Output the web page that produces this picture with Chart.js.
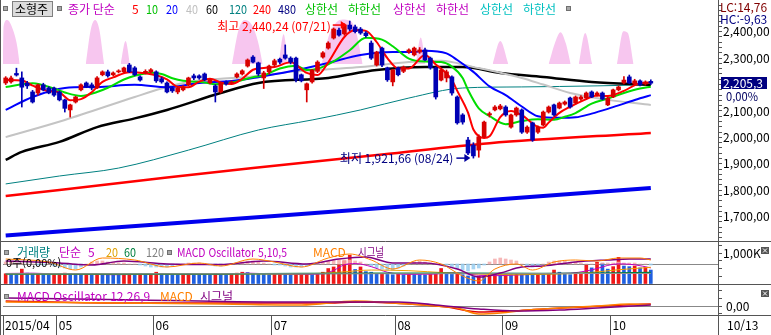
<!DOCTYPE html>
<html lang="ko"><head><meta charset="utf-8">
<script src="https://cdn.jsdelivr.net/npm/chart.js@4.4.1/dist/chart.umd.min.js"></script>
<style>
html,body{margin:0;padding:0;background:#fff;width:771px;height:335px;overflow:hidden;}
canvas{position:absolute;left:0;display:block;}
</style></head><body>
<canvas id="cMain" width="771" height="242" style="top:0px"></canvas>
<canvas id="cVol" width="771" height="43" style="top:242px"></canvas>
<canvas id="cMacd" width="771" height="50" style="top:285px"></canvas>
<script>
// ---------------- DATA ----------------
const opens = [2206,2210,2242,2225,2205,2172,2168,2199,2187,2187, 2172,2142,2104,2134,2180,2206,2199,2187,2237,2248, 2237,2248,2248,2274,2263,2229,2244,2248,2248,2222, 2206,2187,2172,2180,2199,2233,2233,2240,2206,2195, 2172,2210,2206,2229,2240,2270,2304,2282,2225,2248, 2274,2296,2312,2300,2300,2237,2180,2210,2250,2304, 2338,2376,2406,2392,2425,2418,2410,2395,2357,2274, 2338,2263,2210,2263,2250,2323,2312,2323,2331,2300, 2263,2217,2225,2229,2153,2085,1990,1971,1952,2002, 2085,2104,2108,2115,2039,2085,2104,2020,2055,2020, 2047,2096,2123,2111,2126,2149,2130,2145,2149,2172, 2160,2168,2123,2153,2180,2206,2229,2202,2214,2202, 2212];
const highs = [2230,2232,2262,2248,2212,2178,2202,2205,2192,2190, 2176,2145,2126,2156,2203,2210,2206,2230,2252,2255, 2248,2256,2266,2280,2268,2233,2256,2260,2252,2228, 2210,2192,2192,2196,2228,2240,2237,2244,2222,2200, 2208,2214,2214,2244,2256,2297,2310,2285,2250,2274, 2296,2300,2350,2305,2304,2240,2206,2258,2290,2325, 2362,2414,2414,2430,2440.24,2425,2416,2400,2365,2326, 2342,2266,2258,2266,2270,2335,2342,2340,2338,2304, 2266,2260,2255,2233,2157,2090,2000,1980,2010,2062, 2096,2120,2125,2120,2088,2115,2108,2044,2058,2044, 2100,2119,2126,2134,2138,2153,2157,2158,2172,2176, 2172,2172,2153,2183,2195,2230,2236,2220,2218,2214, 2218];
const lows = [2200,2205,2232,2115,2185,2130,2160,2176,2165,2155, 2138,2096,2077,2130,2176,2188,2180,2184,2233,2228, 2233,2244,2245,2245,2233,2213,2240,2244,2208,2205, 2168,2170,2165,2176,2195,2218,2220,2214,2202,2134, 2168,2198,2202,2225,2236,2266,2282,2233,2185,2240, 2268,2278,2296,2278,2210,2210,2134,2205,2245,2300, 2334,2372,2383,2387,2404,2395,2390,2378,2295,2270, 2268,2212,2195,2233,2245,2318,2308,2318,2290,2258, 2145,2214,2210,2160,2050,2050,1935,1921.66,1925,1998, 2077,2100,2104,2080,2035,2080,2015,2015,1985,2015, 2043,2092,2080,2108,2122,2111,2126,2140,2145,2150, 2156,2142,2120,2150,2176,2202,2203,2198,2195,2198, 2200];
const closes = [2225,2225,2236,2190,2195,2134,2199,2180,2168,2160, 2142,2110,2123,2153,2199,2191,2187,2225,2248,2233, 2244,2249,2263,2248,2237,2217,2250,2256,2214,2210, 2172,2176,2187,2191,2225,2225,2225,2218,2218,2172, 2206,2202,2210,2240,2252,2293,2285,2240,2244,2270, 2290,2285,2300,2285,2217,2214,2203,2255,2285,2320, 2357,2410,2387,2425,2410,2400,2395,2385,2300,2323, 2274,2218,2255,2237,2266,2331,2338,2331,2293,2263, 2153,2255,2248,2168,2055,2058,1941,1930,2002,2058, 2090,2115,2119,2085,2085,2111,2020,2039,1990,2039, 2096,2115,2085,2130,2134,2115,2153,2153,2168,2153, 2168,2145,2149,2180,2191,2217,2206,2214,2199,2210, 2205.3];
// volume in thousands
const volume = [330,310,300,480,350,330,340,300,290,310, 330,350,340,320,300,310,290,320,310,300, 290,280,300,320,310,330,300,310,380,330, 320,300,290,310,330,320,300,290,280,330, 310,300,320,350,380,370,340,330,310,300, 310,320,300,290,310,320,340,300,310,380, 500,550,620,750,930,470,550,400,380,320, 330,310,300,320,300,320,310,300,290,310, 330,500,320,310,330,300,260,240,250,230, 280,300,290,310,300,320,310,300,290,310, 300,320,450,380,310,300,320,330,610,520, 700,670,480,560,860,580,560,580,520,540, 450];
// MACD oscillator 5,10,5 (shown in volume pane)
const osc5 = [0.2,0.2,0.1,0.1,0.0,0.0,-0.1,-0.1, 0.0,-0.2,-0.3,-0.4,-0.5,-0.5,-0.3,0.0, 0.2,0.3,0.3,0.2,0.2,0.1,0.1,0.0, 0.0,-0.1,-0.2,-0.3,-0.3,-0.3,-0.3,-0.2, -0.1,0.0,0.1,0.1,0.1,0.0,-0.1,-0.2, -0.2,-0.1,0.0,0.1,0.2,0.3,0.3,0.2, 0.1,0.0,-0.1,-0.1,-0.2,-0.3,-0.3,-0.3, -0.2,0.0,0.1,0.2,0.3,0.4,0.4,0.4, 0.4,0.3,0.2,0.0,-0.2,-0.4,-0.5,-0.6, -0.6,-0.4,-0.2,0.0,0.2,0.3,0.2,0.1, 0.0,0.0,-0.1,-0.3,-0.5,-0.6,-0.7,-0.5, -0.4,-0.1,0.2,0.5,0.6,0.5,0.4,0.3, 0.0,-0.2,-0.3,-0.2,0.0,0.2,0.3,0.3, 0.3,0.2,0.2,0.1,0.0,0.0,0.0,0.1, 0.1,0.1,0.2,0.1,0.1,0.1,0.0,0.0,-0.1];

// moving averages [candle index, value]
const ma5 = [[0,2217],[3,2215],[5,2196],[8,2175],[10,2170],[12,2141],[14,2145],[16,2171],[18,2210],[20,2227],[23,2247],[26,2243],[28,2235],[30,2220],[32,2192],[34,2190],[36,2211],[38,2222],[40,2208],[42,2202],[44,2222],[46,2256],[48,2263],[50,2266],[53,2284],[56,2244],[58,2236],[60,2284],[63,2380],[65,2406],[67,2403],[69,2361],[71,2300],[73,2261],[75,2261],[78,2312],[80,2276],[82,2242],[83,2217],[84,2176],[86,2094],[87,2030],[89,1998],[90,2004],[92,2077],[94,2100],[96,2084],[99,2040],[100,2037],[101,2056],[103,2093],[105,2116],[108,2145],[110,2159],[112,2157],[115,2176],[118,2205],[120,2207]];
const ma10 = [[0,2191],[5,2205],[9,2185],[11,2170],[14,2157],[17,2172],[19,2188],[22,2219],[24,2233],[27,2245],[29,2240],[31,2224],[33,2214],[35,2211],[37,2208],[39,2201],[42,2208],[44,2217],[46,2228],[48,2234],[51,2261],[54,2271],[56,2255],[58,2260],[61,2288],[64,2330],[67,2377],[70,2370],[72,2345],[75,2298],[78,2287],[81,2285],[83,2268],[85,2225],[86,2180],[88,2110],[90,2081],[93,2050],[96,2062],[99,2069],[102,2067],[104,2078],[106,2092],[109,2128],[112,2147],[115,2168],[118,2185],[120,2192]];
const ma20 = [[0,2104],[5,2153],[11,2187],[17,2191],[24,2199],[30,2190],[36,2206],[42,2213],[47,2228],[53,2250],[60,2282],[66,2312],[72,2323],[76,2323],[78,2328],[82,2318],[84,2293],[87,2248],[90,2193],[93,2160],[96,2117],[99,2080],[103,2074],[106,2076],[109,2090],[112,2108],[115,2128],[118,2148],[120,2160]];
const ma40 = [[0,2001],[11,2066],[24,2153],[29,2185],[34,2210],[40,2222],[47,2232],[53,2248],[60,2258],[66,2266],[75,2285],[81,2290],[87,2266],[92,2245],[96,2225],[100,2200],[105,2168],[112,2142],[120,2123]];
const ma60 = [[0,1915],[3,1945],[10,1983],[17,2039],[24,2072],[30,2104],[40,2168],[47,2206],[60,2225],[69,2255],[78,2266],[85,2266],[92,2244],[100,2229],[109,2210],[120,2199]];
const ma120 = [[0,1824],[10,1854],[21,1884],[34,1952],[47,2028],[57,2066],[66,2104],[75,2149],[85,2187],[96,2191],[110,2195],[120,2199]];
const ma240 = [[0,1778],[30,1848],[46,1884],[70,1935],[90,1978],[120,2017]];
const ma480 = [[0,1629],[30,1673],[60,1718],[90,1763],[120,1809]];
// pink envelope humps at top [index, value]
const pinkBase = 2278;
const pinkBlobs = [
 [[-0.5,2278],[-0.4,2420],[0.3,2444],[1.3,2410],[2.1,2350],[2.6,2278]],
 [[14.9,2278],[15.8,2405],[16.6,2444],[17.4,2410],[18.3,2278]],
 [[21.4,2278],[22.3,2365],[23.1,2278]],
 [[42.1,2278],[43.3,2405],[44.5,2444],[45.8,2425],[46.9,2365],[47.8,2278]],
 [[50.8,2278],[51.7,2390],[52.5,2278]],
 [[58.8,2278],[60.2,2390],[61.5,2435],[62.7,2446],[64.0,2442],[65.1,2405],[66.4,2278]],
 [[76.3,2278],[77.2,2378],[78.1,2278]],
 [[90.6,2278],[92.0,2365],[93.5,2278]],
 [[101.0,2278],[102.3,2365],[103.2,2398],[104.2,2355],[105.1,2278]],
 [[106.6,2278],[107.8,2395],[109.1,2278]],
 [[113.7,2278],[114.9,2402],[115.7,2396],[116.8,2278]]
];
// volume moving averages (K)
const volMa5 = [[0,340],[5,350],[10,320],[15,315],[20,300],[25,310],[30,320],[35,310],[40,310],[45,350],[50,320],[55,310],[59,330],[61,440],[63,620],[65,660],[68,560],[71,380],[75,310],[80,320],[82,360],[85,350],[88,280],[92,270],[97,305],[102,340],[105,350],[108,420],[110,500],[112,600],[114,650],[117,620],[120,520]];
const volMa20 = [[0,320],[20,315],[40,320],[55,325],[62,380],[68,450],[75,430],[82,360],[88,320],[95,300],[102,320],[108,360],[114,460],[120,540]];
const volMa60 = [[0,320],[40,320],[70,350],[100,340],[120,370]];
const volMa120 = [[0,330],[60,330],[120,340]];
// MACD 5,10,5 lines (volume pane)
const macd5 = [[0,0.5],[8,0.2],[13,-0.6],[18,0.6],[24,0.4],[30,-0.3],[36,0.1],[40,-0.2],[46,0.5],[50,0.2],[55,-0.3],[60,0.6],[64,1.0],[68,0.4],[72,-0.5],[77,0.4],[81,0.0],[85,-1.2],[88,-1.7],[91,-0.5],[95,0.0],[98,-0.6],[102,0.2],[106,0.4],[110,0.3],[114,0.6],[118,0.6],[120,0.4]];
const signal5 = [[0,0.3],[10,0.1],[16,-0.1],[22,0.3],[30,0.0],[40,-0.05],[48,0.3],[56,0.0],[62,0.5],[67,0.7],[72,0.1],[78,0.1],[84,-0.5],[88,-1.3],[92,-0.9],[96,-0.3],[100,-0.2],[106,0.2],[112,0.4],[116,0.5],[120,0.5]];
// MACD 12,26,9 pane
const macd12 = [[0,4],[20,3],[40,2],[55,1],[65,5],[72,3],[80,0],[84,-2],[88,-8],[92,-7],[97,-4],[103,-2],[110,0],[116,2],[120,1.5]];
const signal12 = [[0,8],[25,6],[50,4],[65,4],[73,4],[80,1],[88,-3],[95,-5],[103,-4],[110,-2],[120,1]];
const osc12 = [[0,5],[20,3],[40,3],[60,3],[66,4],[75,2],[82,-1],[88,-6],[94,-5],[100,-3],[108,-1],[115,1],[120,2]];
// axis labels
const monthStartIdx = [0,10,28,50,73,93,113];
const monthLabels = ['2015/04','05','06','07','08','09','10'];
const lastDateLabel = '10/13';
const priceLabelValues = [1700,1800,1900,2000,2100,2300,2400];
const volTickValues = [0,250,500,750,1000,1250];
const macdTickValues = [-7.5,0,7.5,15];
const hiDate = '07/21', loDate = '08/24';

// ---------------- STYLE ----------------
const FONT = '"Noto Sans CJK KR", "Noto Sans", sans-serif';
const FRAME = '#555555';
const UP = '#d80000', DOWN = '#0000b4';
const VUP = '#f01818', VDOWN = '#1f5fe0';
Chart.defaults.font.family = FONT;
Chart.defaults.font.size = 12;
Chart.defaults.color = '#000';

const candleColor = opens.map((o,i)=> closes[i] >= o ? UP : DOWN);
const volColor = volume.map((v,i)=> (i===0 || v >= volume[i-1]) ? VUP : VDOWN);

function lineDS(pts, color, w, axis, order){
  return {type:'line', data: pts.map(p=>({x:p[0], y:p[1]})), borderColor:color, borderWidth:w,
    pointRadius:0, fill:false, cubicInterpolationMode:'monotone', yAxisID: axis||'y', order: order||10};
}
function xAxisHidden(){ return {type:'linear', min:-0.5, max:132.5, offset:false, display:false, grid:{display:false}}; }
function baseOpts(){
  return {responsive:false, animation:false, devicePixelRatio:1, events:[],
    layout:{padding:{left:3,right:0,top:0,bottom:0}},
    plugins:{legend:{display:false}, tooltip:{enabled:false}}};
}
function fitRight(s){ s.width = 53; s.paddingTop = 0; s.paddingBottom = 0; }
function txt(ctx, s, x, y, color, o){
  o = o||{};
  ctx.save();
  ctx.font = (o.size||12) + 'px ' + FONT;
  ctx.fillStyle = color; ctx.textBaseline = 'middle'; ctx.textAlign = o.align||'left';
  if (o.w) ctx.fillText(s, x, y, o.w); else ctx.fillText(s, x, y);
  ctx.restore();
}
function hline(ctx, x1, x2, y, c){ ctx.save(); ctx.strokeStyle=c||FRAME; ctx.lineWidth=1; ctx.beginPath(); ctx.moveTo(x1,y); ctx.lineTo(x2,y); ctx.stroke(); ctx.restore(); }
function vline(ctx, x, y1, y2, c){ ctx.save(); ctx.strokeStyle=c||FRAME; ctx.lineWidth=1; ctx.beginPath(); ctx.moveTo(x,y1); ctx.lineTo(x,y2); ctx.stroke(); ctx.restore(); }
function square(ctx, x, y){ ctx.save(); ctx.fillStyle='#a8a8a8'; ctx.fillRect(x,y,5,5); ctx.strokeStyle='#707070'; ctx.strokeRect(x+0.5,y+0.5,4,4); ctx.restore(); }
function closeBox(ctx, x, y){ ctx.save(); ctx.fillStyle='#555'; ctx.fillRect(x,y,8,7); ctx.strokeStyle='#fff'; ctx.lineWidth=1; ctx.beginPath(); ctx.moveTo(x+2,y+1.5); ctx.lineTo(x+6,y+5.5); ctx.moveTo(x+6,y+1.5); ctx.lineTo(x+2,y+5.5); ctx.stroke(); ctx.restore(); }
function arrow(ctx, x1, x2, y, c){ ctx.save(); ctx.strokeStyle=c; ctx.fillStyle=c; ctx.lineWidth=1.5; ctx.beginPath(); ctx.moveTo(x1,y); ctx.lineTo(x2-4,y); ctx.stroke(); ctx.beginPath(); ctx.moveTo(x2,y); ctx.lineTo(x2-6,y-4); ctx.lineTo(x2-6,y+4); ctx.closePath(); ctx.fill(); ctx.restore(); }
function fmtInt(v){ return Math.round(v).toLocaleString('en-US'); }
function fmt2(v){ const i = Math.floor(v); return i.toLocaleString('en-US') + ',' + String(Math.round((v-i)*100)).padStart(2,'0'); }
function fmt1(v){ const i = Math.floor(v); return i.toLocaleString('en-US') + ',' + String(Math.round((v-i)*10)); }

// ---------------- MAIN PANE ----------------
const pinkData = [];
pinkBlobs.forEach(b => { b.forEach(p => pinkData.push({x:p[0], y:p[1]})); pinkData.push({x:b[b.length-1][0]+0.05, y:null}); });

const mainPlugin = {
  id:'mainText',
  afterDraw(chart){
    const {ctx, scales:{x, y}} = chart;
    hline(ctx, 0, 771, 241.5); vline(ctx, 0.5, 0, 242);
    // legend row
    square(ctx, 3, 6);
    ctx.save(); ctx.fillStyle='#dcdcdc'; ctx.fillRect(12,1,41,16); ctx.strokeStyle='#808080'; ctx.strokeRect(12.5,1.5,40,15); ctx.restore();
    txt(ctx,'소형주',15,9,'#000');
    square(ctx, 57, 6);
    txt(ctx,'종가 단순',68,9,'#c000c0');
    txt(ctx,'5',132,9,'#ff0000');
    txt(ctx,'10',146,9,'#00c000',{w:12});
    txt(ctx,'20',166,9,'#0000ff',{w:12});
    txt(ctx,'40',186,9,'#c0c0c0',{w:12});
    txt(ctx,'60',206,9,'#000000',{w:12});
    txt(ctx,'120',229,9,'#008080',{w:18});
    txt(ctx,'240',253,9,'#ff0000',{w:18});
    txt(ctx,'480',278,9,'#000080',{w:18});
    txt(ctx,'상한선',305,9,'#00c000',{w:34});
    txt(ctx,'하한선',348,9,'#00c000',{w:34});
    txt(ctx,'상한선',393,9,'#c000c0',{w:34});
    txt(ctx,'하한선',436,9,'#c000c0',{w:34});
    txt(ctx,'상한선',480,9,'#00c0c0',{w:34});
    txt(ctx,'하한선',523,9,'#00c0c0',{w:34});
    square(ctx, 566, 6);
    // high / low annotations
    const hiIdx = highs.indexOf(Math.max(...highs));
    const loIdx = lows.indexOf(Math.min(...lows));
    const hx = x.getPixelForValue(hiIdx), hy = y.getPixelForValue(highs[hiIdx]);
    arrow(ctx, hx-17, hx-3, hy+4, '#ff0000');
    txt(ctx, '최고 ' + fmt2(highs[hiIdx]) + ' (' + hiDate + ')', hx-19, hy+5, '#ff0000', {align:'right', w:118});
    const lx = x.getPixelForValue(loIdx), ly = y.getPixelForValue(lows[loIdx]);
    arrow(ctx, lx-17, lx-3, ly, '#0000a0');
    txt(ctx, '최저 ' + fmt2(lows[loIdx]) + ' (' + loDate + ')', lx-20, ly, '#000080', {align:'right', w:118});
    // right side texts
    txt(ctx,'LC:14,76',720,7,'#800000',{w:48});
    txt(ctx,'HC:-9,63',720,19,'#000080',{w:48});
    const last = closes[closes.length-1];
    const py = y.getPixelForValue(last);
    ctx.save(); ctx.fillStyle='#000080'; ctx.fillRect(721, Math.round(py)-6, 46, 12); ctx.restore();
    txt(ctx, fmt1(last), 723, py, '#ffffff', {w:42});
    txt(ctx, '0,00%', 726, py+13, '#000060', {w:32});
  }
};

new Chart(document.getElementById('cMain'), {
  type:'bar',
  data:{datasets:[
    {type:'bar', data: opens.map((o,i)=>({x:i, y:[o, closes[i]]})), backgroundColor: candleColor, barThickness:4, grouped:false, minBarLength:1, order:1},
    {type:'bar', data: highs.map((h,i)=>({x:i, y:[lows[i], h]})), backgroundColor: candleColor, barThickness:1, grouped:false, order:2},
    lineDS(ma5,'#ff0000',2,'y',13),
    lineDS(ma10,'#00dd00',2,'y',14),
    lineDS(ma20,'#0000ff',2,'y',15),
    lineDS(ma40,'#c4c4c4',2,'y',16),
    lineDS(ma60,'#000000',2.5,'y',17),
    lineDS(ma120,'#008080',1,'y',18),
    lineDS(ma240,'#ff0000',2.5,'y',19),
    lineDS(ma480,'#0000ee',4,'y',20),
    {type:'line', data: pinkData, fill:{value: pinkBase}, backgroundColor:'#f7c6ef', borderColor:'rgba(0,0,0,0)', borderWidth:0, pointRadius:0, cubicInterpolationMode:'monotone', spanGaps:false, order:100}
  ]},
  options: Object.assign(baseOpts(), {
    scales:{
      x: xAxisHidden(),
      y: {position:'right', min:1604.3, max:2519.9, beginAtZero:false,
        afterFit: fitRight,
        afterBuildTicks: s => { const t=[]; for (let v=1620; v<=2500; v+=20) t.push({value:v}); s.ticks=t; },
        ticks:{autoSkip:false, padding:1, color:'#000', font:{size:12},
          callback: v => priceLabelValues.includes(v) ? fmtInt(v) + ',00' : ''},
        grid:{drawOnChartArea:false, drawTicks:true, tickLength:4, color:FRAME},
        border:{display:true, color:FRAME}}
    }
  }),
  plugins:[mainPlugin]
});

// ---------------- VOLUME PANE ----------------
const volPlugin = {
  id:'volText',
  beforeDatasetsDraw(chart){
    const {ctx, chartArea, scales:{yo}} = chart;
    hline(ctx, chartArea.left, chartArea.right, Math.round(yo.getPixelForValue(0))+0.5, '#888888');
  },
  afterDraw(chart){
    const {ctx} = chart;
    hline(ctx, 0, 771, 42.5); vline(ctx, 0.5, 0, 43);
    square(ctx, 4, 8);
    txt(ctx,'거래량',17,10,'#008080',{w:35});
    txt(ctx,'단순',59,10,'#c000c0',{w:24});
    txt(ctx,'5',88,10,'#c000c0');
    txt(ctx,'20',106,10,'#e0a000',{w:12});
    txt(ctx,'60',124,10,'#008040',{w:12});
    txt(ctx,'120',146,10,'#808080',{w:18});
    square(ctx, 167, 8);
    txt(ctx,'MACD Oscillator 5,10,5',177,10,'#c000c0',{w:110});
    txt(ctx,'MACD',313,10,'#ff8000',{w:33});
    txt(ctx,'시그널',358,10,'#800080',{w:26});
    txt(ctx,'0주(0,00%)',6,21,'#000',{w:58, size:11});
    closeBox(ctx, 761, 5);
  }
};
new Chart(document.getElementById('cVol'), {
  type:'bar',
  data:{datasets:[
    {type:'bar', data: volume.map((v,i)=>({x:i, y:v})), backgroundColor: volColor, barThickness:3, grouped:false, order:5},
    {type:'bar', data: osc5.map((v,i)=>({x:i, y:v})), yAxisID:'yo', backgroundColor: osc5.map(v=> v>=0 ? 'rgba(245,170,170,0.85)' : 'rgba(150,205,240,0.85)'), barThickness:3, grouped:false, order:4},
    lineDS(volMa120,'#909090',1,'y',3),
    lineDS(volMa60,'#008040',1.5,'y',3),
    lineDS(volMa20,'#f0a000',1,'y',3),
    lineDS(volMa5,'#c000c0',1,'y',3),
    lineDS(macd5,'#ff8000',1,'yo',2),
    lineDS(signal5,'#800080',1.5,'yo',2)
  ]},
  options: Object.assign(baseOpts(), {
    scales:{
      x: xAxisHidden(),
      y: {position:'right', min:-32, max:1355, beginAtZero:false,
        afterFit: fitRight,
        afterBuildTicks: s => { s.ticks = volTickValues.map(v=>({value:v})); },
        ticks:{autoSkip:false, padding:1, color:'#000', font:{size:12}, callback: v => v===1000 ? '1,000K' : ''},
        grid:{drawOnChartArea:false, drawTicks:true, tickLength:4, color:FRAME},
        border:{display:true, color:FRAME}},
      yo: {position:'right', display:false, min:-2.1, max:2.2}
    }
  }),
  plugins:[volPlugin]
});

// ---------------- MACD PANE + X AXIS ----------------
const macdPlugin = {
  id:'macdText',
  beforeDatasetsDraw(chart){
    const {ctx, chartArea, scales:{y}} = chart;
    hline(ctx, chartArea.left, chartArea.right, Math.round(y.getPixelForValue(0))+0.5, '#888888');
  },
  afterDraw(chart){
    const {ctx, chartArea} = chart;
    hline(ctx, 0, 771, chartArea.bottom+0.5); vline(ctx, 0.5, 0, 50);
    vline(ctx, 718.5, chartArea.bottom, 50);
    square(ctx, 4, 9);
    txt(ctx,'MACD Oscillator 12,26,9',17,11,'#c000c0',{w:135});
    txt(ctx,'MACD',160,11,'#ff8000',{w:33});
    txt(ctx,'시그널',200,11,'#800080',{w:37});
    closeBox(ctx, 761, 5);
    txt(ctx, lastDateLabel, 727, 40, '#000', {w:34});
  }
};
new Chart(document.getElementById('cMacd'), {
  type:'line',
  data:{datasets:[
    lineDS(osc12,'#e00000',1.5,'y',3),
    lineDS(macd12,'#ff8000',1.5,'y',2),
    lineDS(signal12,'#800080',1.5,'y',1)
  ]},
  options: Object.assign(baseOpts(), {
    scales:{
      x: {type:'linear', position:'bottom', min:-0.5, max:132.5, offset:false,
        afterBuildTicks: s => { s.ticks = monthStartIdx.map(i=>({value:i-0.5})); },
        afterFit: s => { s.height = 20; s.paddingLeft = 0; s.paddingRight = 0; },
        ticks:{autoSkip:false, maxRotation:0, minRotation:0, align:'start', labelOffset:2, padding:-17, color:'#000', font:{size:12},
          callback: (v, i) => monthLabels[i]},
        grid:{drawOnChartArea:false, drawTicks:true, tickLength:20, color:FRAME},
        border:{display:false}},
      y: {position:'right', min:-9, max:21, beginAtZero:false,
        afterFit: fitRight,
        afterBuildTicks: s => { s.ticks = macdTickValues.map(v=>({value:v})); },
        ticks:{autoSkip:false, padding:4, color:'#000', font:{size:12}, callback: v => v===0 ? '0,00' : ''},
        grid:{drawOnChartArea:false, drawTicks:true, tickLength:4, color:FRAME},
        border:{display:true, color:FRAME}}
    }
  }),
  plugins:[macdPlugin]
});
</script>
</body></html>
